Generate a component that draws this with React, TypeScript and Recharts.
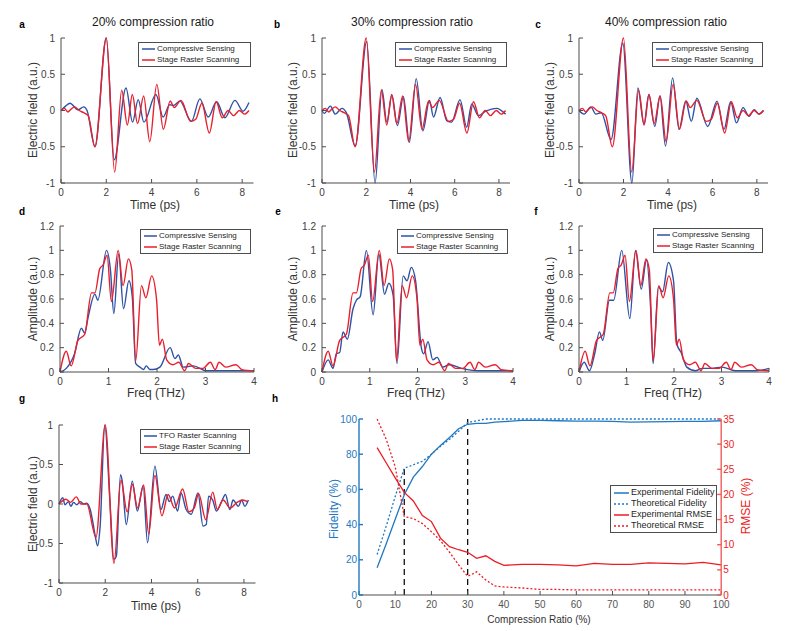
import { LineChart, Line, XAxis, YAxis, Legend, ReferenceLine } from "recharts";

const FONT = '"Liberation Sans", Arial, Helvetica, sans-serif';
const BLUE = "#2e52a6";
const RED = "#ea1f2b";
const AXIS = "#4d4d4d";
const TICK = "#404040";
const H_BLUE = "#1f78c1";
const H_RED = "#ec1c24";
const H_RED_AXIS = "#f25a5a";

// ticks
const timeTicks = [0, 2, 4, 6, 8];
const fieldTicks = [-1, -0.5, 0, 0.5, 1];
const freqTicks = [0, 1, 2, 3, 4];
const ampTicks = [0, 0.2, 0.4, 0.6, 0.8, 1, 1.2];
const crTicks = [0, 10, 20, 30, 40, 50, 60, 70, 80, 90, 100];
const fidTicks = [0, 20, 40, 60, 80, 100];
const rmseTicks = [0, 5, 10, 15, 20, 25, 30, 35];

// stage raster scanning, time domain (reference for a, b, c)
const srTimeT = [0, 0.15, 0.3, 0.45, 0.6, 0.8, 1.0, 1.2, 1.5, 2.0, 2.37, 2.68, 2.93, 3.15, 3.38, 3.65, 3.92, 4.23, 4.52, 4.82, 5.0, 5.3, 5.72, 5.95, 6.22, 6.55, 6.85, 7.12, 7.38, 7.62, 7.88, 8.1, 8.3];
const srTimeV = [0, 0.03, -0.02, 0.02, 0.05, 0.0, -0.03, -0.07, -0.5, 1.0, -0.85, 0.28, -0.2, 0.22, -0.18, 0.2, -0.43, 0.36, -0.26, 0.13, 0.04, 0.14, -0.15, -0.12, 0.1, -0.31, 0.12, -0.1, 0.0, -0.07, 0.0, -0.05, 0.0];

// compressive sensing, 20 / 30 / 40 %
const cs20T = [0, 0.2, 0.4, 0.75, 1.0, 1.15, 1.5, 2.0, 2.35, 2.87, 3.16, 3.41, 3.66, 4.19, 4.51, 4.8, 4.97, 5.25, 5.76, 6.13, 6.5, 6.87, 7.24, 7.68, 8.04, 8.3];
const cs20V = [0, 0.06, 0.1, 0.01, 0.05, 0.0, -0.5, 1.0, -0.68, 0.31, -0.16, 0.15, -0.16, 0.22, -0.09, 0.08, 0.07, 0.13, -0.15, 0.16, -0.09, 0.12, -0.1, 0.14, -0.01, 0.11];
const cs30T = [0, 0.1, 0.38, 0.6, 0.9, 1.1, 1.5, 2.02, 2.4, 2.71, 2.93, 3.16, 3.41, 3.68, 3.95, 4.26, 4.56, 4.86, 5.04, 5.34, 5.64, 5.86, 6.24, 6.54, 6.77, 7.07, 7.4, 7.89, 8.3];
const cs30V = [0, -0.04, 0.06, -0.05, 0.03, -0.03, -0.49, 0.95, -1.0, 0.29, -0.16, 0.21, -0.21, 0.19, -0.44, 0.44, -0.28, 0.14, -0.09, 0.18, -0.14, -0.16, 0.15, -0.23, 0.09, -0.07, -0.01, 0.03, -0.05];
const cs40T = [0, 0.23, 0.53, 0.76, 1.0, 1.44, 1.97, 2.38, 2.65, 2.92, 3.14, 3.41, 3.64, 3.89, 4.21, 4.5, 4.8, 5.05, 5.3, 5.79, 6.21, 6.52, 6.82, 7.08, 7.38, 7.65, 7.88, 8.08, 8.29];
const cs40V = [0, -0.05, 0.05, -0.05, -0.03, -0.4, 0.93, -1.0, 0.31, -0.19, 0.22, -0.22, 0.2, -0.49, 0.45, -0.26, 0.13, -0.15, 0.17, -0.22, 0.13, -0.26, 0.12, -0.17, 0.04, -0.08, 0.01, -0.05, 0.0];

// spectra (THz)
const srFreqF = [0, 0.13, 0.23, 0.37, 0.51, 0.65, 0.72, 0.82, 0.89, 0.97, 1.06, 1.2, 1.3, 1.41, 1.48, 1.56, 1.68, 1.77, 1.89, 1.99, 2.05, 2.11, 2.2, 2.33, 2.45, 2.57, 2.65, 2.8, 2.95, 3.1, 3.2, 3.28, 3.42, 3.63, 3.75, 4.0];
const srFreqA = [0, 0.17, 0.05, 0.26, 0.31, 0.65, 0.65, 0.85, 0.88, 0.96, 0.58, 1.0, 0.71, 0.93, 0.84, 0.09, 0.71, 0.61, 0.79, 0.6, 0.22, 0.27, 0.1, 0.06, 0.08, 0.01, 0.07, 0.03, 0.03, 0.08, 0.02, 0.08, 0.04, 0.06, 0.02, 0.01];
const cs20F = [0, 0.13, 0.3, 0.44, 0.51, 0.58, 0.72, 0.78, 0.96, 1.04, 1.11, 1.21, 1.31, 1.42, 1.49, 1.56, 1.65, 1.72, 1.78, 1.85, 1.92, 2.06, 2.27, 2.37, 2.44, 2.54, 2.75, 3.02, 3.57, 4.0];
const cs20A = [0, 0.03, 0.15, 0.36, 0.32, 0.45, 0.64, 0.59, 1.0, 0.84, 0.48, 0.97, 0.52, 0.75, 0.62, 0.07, 0.04, 0.02, 0.05, 0.02, 0.02, 0.04, 0.2, 0.11, 0.14, 0.04, 0.05, 0.01, 0.01, 0.01];
const cs30F = [0, 0.13, 0.23, 0.3, 0.37, 0.44, 0.53, 0.65, 0.72, 0.8, 0.93, 1.07, 1.19, 1.31, 1.4, 1.49, 1.57, 1.7, 1.78, 1.87, 1.96, 2.08, 2.13, 2.22, 2.32, 2.41, 2.53, 2.67, 2.92, 3.27, 4.0];
const cs30A = [0, 0.1, 0.03, 0.15, 0.16, 0.33, 0.27, 0.52, 0.59, 0.62, 1.0, 0.47, 0.97, 0.64, 0.73, 0.63, 0.07, 0.79, 0.75, 0.86, 0.75, 0.2, 0.15, 0.25, 0.1, 0.12, 0.04, 0.06, 0.03, 0.01, 0.01];
const cs40F = [0, 0.11, 0.22, 0.33, 0.43, 0.5, 0.64, 0.73, 0.9, 1.07, 1.19, 1.31, 1.42, 1.51, 1.56, 1.67, 1.76, 1.88, 1.99, 2.06, 2.15, 2.27, 2.45, 2.59, 2.8, 3.01, 3.29, 3.72, 4.0];
const cs40A = [0, 0.08, 0.01, 0.15, 0.33, 0.26, 0.59, 0.59, 1.0, 0.44, 1.0, 0.68, 0.92, 0.51, 0.07, 0.7, 0.66, 0.9, 0.75, 0.23, 0.16, 0.04, 0.01, 0.03, 0.03, 0.04, 0.01, 0.01, 0.03];

// panel g: TFO raster vs stage raster
const tfoT = [0, 0.16, 0.26, 0.41, 0.51, 0.63, 0.77, 0.92, 1.06, 1.2, 1.35, 1.47, 1.57, 1.67, 1.78, 1.98, 2.2, 2.37, 2.48, 2.66, 2.73, 2.91, 3.17, 3.39, 3.64, 3.83, 4.15, 4.41, 4.63, 4.77, 4.92, 5.13, 5.28, 5.5, 5.72, 6.01, 6.23, 6.37, 6.47, 6.65, 6.81, 7.03, 7.2, 7.39, 7.53, 7.76, 7.9, 8.04, 8.19];
const tfoV = [0, 0.08, -0.01, 0.03, -0.03, 0.02, -0.01, 0.03, 0.0, 0.01, -0.07, -0.24, -0.41, -0.53, -0.28, 1.0, 0.05, -0.7, -0.66, 0.37, 0.3, -0.26, 0.29, -0.09, 0.23, -0.49, 0.48, -0.07, 0.12, 0.03, 0.1, -0.09, 0.14, -0.07, -0.13, 0.14, -0.28, -0.26, 0.1, 0.05, -0.09, 0.03, 0.12, -0.07, 0.05, -0.03, 0.05, -0.03, 0.05];
const srGT = [0, 0.3, 0.5, 0.75, 0.95, 1.2, 1.6, 2.0, 2.38, 2.68, 2.95, 3.17, 3.4, 3.66, 3.88, 4.15, 4.45, 4.72, 5.0, 5.35, 5.62, 5.85, 6.04, 6.35, 6.65, 6.85, 7.1, 7.4, 7.7, 7.95, 8.15];
const srGV = [0, 0.06, 0.02, 0.09, 0.0, 0.0, -0.42, 1.0, -0.75, 0.3, -0.1, 0.25, -0.05, 0.24, -0.38, 0.36, -0.15, 0.12, -0.05, 0.19, -0.1, -0.05, 0.13, -0.2, 0.15, -0.07, 0.05, -0.05, 0.02, 0.05, 0.03];

// panel h
const compRatio = [5, 7.5, 10, 12.5, 15, 17.5, 20, 22.5, 25, 27.5, 30, 32.5, 35, 37.5, 40, 45, 50, 55, 60, 65, 70, 75, 80, 85, 90, 95, 100];
const expFidelity = [15.5, 29, 43, 57, 67, 73, 80, 85, 89.5, 94.5, 97, 97.5, 97.5, 98.2, 98.5, 99.2, 99.2, 99, 98.8, 98.8, 98.6, 98.2, 98.4, 98.5, 98.6, 98.7, 99];
const theoFidelity = [23, 39, 56, 72, 74, 76, 80, 84.5, 88.5, 93, 98, 99, 100, 100, 100, 100, 100, 100, 100, 100, 100, 100, 100, 100, 100, 100, 100];
const expRmse = [29.3, 26.3, 23.3, 20.4, 18.7, 15.8, 14.6, 11.3, 9.6, 9.0, 8.5, 7.3, 7.8, 6.7, 5.9, 6.1, 6.1, 6.0, 5.8, 6.3, 6.1, 6.1, 6.4, 6.3, 6.2, 6.5, 6.0];
const theoRmse = [35, 31, 25.5, 15.6, 15.2, 14.2, 12.6, 10.8, 8.5, 6, 3.7, 4.6, 3.0, 1.8, 1.6, 1.4, 1.1, 1.1, 1.0, 1.0, 1.0, 1.0, 1.0, 1.0, 1.0, 1.0, 1.0];
const markerLow = [{ x: 12.5, y: 0 }, { x: 12.5, y: 72 }];
const markerHigh = 30;

type Pt = { x: number; y: number };
type Item = { name: string; color: string; dash?: string };
const pts = (xs: number[], ys: number[]): Pt[] => xs.map((x, i) => ({ x, y: ys[i] }));

function LegendBox({ items, fontSize = 8, rowH = 10.7, sample = 13 }: { items: Item[]; fontSize?: number; rowH?: number; sample?: number }) {
  return (
    <div style={{ boxSizing: "border-box", border: `1px solid ${AXIS}`, background: "#fff", padding: "1px 3px", fontFamily: FONT, fontSize, color: "#262626", lineHeight: `${rowH}px` }}>
      {items.map((it) => (
        <div key={it.name} style={{ display: "flex", alignItems: "center", whiteSpace: "nowrap" }}>
          <svg width={sample} height={4} style={{ marginRight: 2, flex: "none" }}>
            <line x1={0} y1={2} x2={sample} y2={2} stroke={it.color} strokeWidth={1.5} strokeDasharray={it.dash} />
          </svg>
          <span>{it.name}</span>
        </div>
      ))}
    </div>
  );
}

function Txt({ x, y, size = 12, rot, color = "#333", bold, children }: { x: number; y: number; size?: number; rot?: number; color?: string; bold?: boolean; children: string }) {
  return (
    <div style={{ position: "absolute", left: x, top: y, transform: `translate(-50%, -50%)${rot ? ` rotate(${rot}deg)` : ""}`, fontSize: size, fontWeight: bold ? 700 : 400, color, whiteSpace: "nowrap", lineHeight: 1 }}>
      {children}
    </div>
  );
}

const YW = 40, MT = 8, MR = 10, XH = 24;

function Panel({ box, xMax, xTicks, yDomain, yTicks, series, leg }: {
  box: number[]; xMax: number; xTicks: number[]; yDomain: number[]; yTicks: number[];
  series: { name: string; color: string; data: Pt[] }[]; leg: number[];
}) {
  const [l, t, r, b] = box;
  const cl = l - YW, ct = t - MT;
  const tickStyle = { fill: TICK, fontSize: 10, fontFamily: FONT };
  return (
    <div style={{ position: "absolute", left: cl, top: ct }}>
      <LineChart width={r - l + YW + MR} height={b - t + MT + XH} margin={{ top: MT, right: MR, bottom: 0, left: 0 }}>
        <XAxis type="number" dataKey="x" domain={[0, xMax]} ticks={xTicks} interval={0} height={XH} stroke={AXIS} tickSize={-4} tickMargin={10} tick={tickStyle} />
        <XAxis xAxisId="top" orientation="top" type="number" dataKey="x" domain={[0, xMax]} ticks={xTicks} interval={0} height={0} stroke={AXIS} tickSize={-4} tick={false} />
        <YAxis type="number" domain={yDomain} ticks={yTicks} interval={0} width={YW} stroke={AXIS} tickSize={-4} tickMargin={10} tick={tickStyle} />
        <YAxis yAxisId="right" orientation="right" type="number" domain={yDomain} ticks={yTicks} interval={0} width={0} stroke={AXIS} tickSize={-4} tick={false} />
        {series.map((s) => (
          <Line key={s.name} data={s.data} dataKey="y" name={s.name} type="monotone" stroke={s.color} strokeWidth={1.4} dot={false} isAnimationActive={false} />
        ))}
        <Legend layout="vertical" align="center" verticalAlign="middle" width={leg[2]}
          wrapperStyle={{ left: leg[0] - cl, top: leg[1] - ct, width: leg[2] }}
          content={() => <LegendBox items={series.map((s) => ({ name: s.name, color: s.color }))} />} />
      </LineChart>
    </div>
  );
}

const csItems = (cs: Pt[], sr: Pt[]) => [
  { name: "Compressive Sensing", color: BLUE, data: cs },
  { name: "Stage Raster Scanning", color: RED, data: sr },
];

function FidelityPanel() {
  const [l, t, r, b] = [359.3, 419, 721.5, 595];
  const LW = 34, RW = 30, top = 8;
  const cl = l - LW, ct = t - top;
  const data = compRatio.map((x, i) => ({ x, ef: expFidelity[i], tf: theoFidelity[i], er: expRmse[i], tr: theoRmse[i] }));
  const tickStyle = { fontSize: 10, fontFamily: FONT };
  const items: Item[] = [
    { name: "Experimental Fidelity", color: H_BLUE },
    { name: "Theoretical Fidelity", color: H_BLUE, dash: "2 2" },
    { name: "Experimental RMSE", color: H_RED },
    { name: "Theoretical RMSE", color: H_RED, dash: "2 2" },
  ];
  return (
    <div style={{ position: "absolute", left: cl, top: ct }}>
      <LineChart data={data} width={r - l + LW + RW} height={b - t + top + 26} margin={{ top, right: 0, bottom: 0, left: 0 }}>
        <XAxis type="number" dataKey="x" domain={[0, 100]} ticks={crTicks} interval={0} height={26} stroke={AXIS} tickSize={-4} tickMargin={10} tick={{ ...tickStyle, fill: "#555" }} />
        <XAxis xAxisId="top" orientation="top" type="number" dataKey="x" domain={[0, 100]} ticks={crTicks} interval={0} height={0} stroke={AXIS} tickSize={-4} tick={false} />
        <YAxis yAxisId="fid" type="number" domain={[0, 100]} ticks={fidTicks} interval={0} width={LW} stroke={H_BLUE} strokeWidth={1.4} tickSize={-4} tickMargin={6} tick={{ ...tickStyle, fill: H_BLUE }} />
        <YAxis yAxisId="rmse" orientation="right" type="number" domain={[0, 35]} ticks={rmseTicks} interval={0} width={RW} stroke={H_RED_AXIS} strokeWidth={1.4} tickSize={-4} tickMargin={6} tick={{ ...tickStyle, fill: H_RED }} />
        <ReferenceLine yAxisId="fid" x={markerHigh} stroke="#111" strokeWidth={1.3} strokeDasharray="6 4" />
        <ReferenceLine yAxisId="fid" segment={markerLow} stroke="#111" strokeWidth={1.3} strokeDasharray="6 4" />
        <Line yAxisId="fid" dataKey="ef" name={items[0].name} type="linear" stroke={H_BLUE} strokeWidth={1.3} dot={false} isAnimationActive={false} />
        <Line yAxisId="fid" dataKey="tf" name={items[1].name} type="linear" stroke={H_BLUE} strokeWidth={1.3} strokeDasharray="2 2" dot={false} isAnimationActive={false} />
        <Line yAxisId="rmse" dataKey="er" name={items[2].name} type="linear" stroke={H_RED} strokeWidth={1.3} dot={false} isAnimationActive={false} />
        <Line yAxisId="rmse" dataKey="tr" name={items[3].name} type="linear" stroke={H_RED} strokeWidth={1.3} strokeDasharray="2 2" dot={false} isAnimationActive={false} />
        <Legend layout="vertical" align="center" verticalAlign="middle" width={107}
          wrapperStyle={{ left: 610 - cl, top: 485 - ct, width: 107 }}
          content={() => <LegendBox items={items} fontSize={9} rowH={11} sample={15} />} />
      </LineChart>
    </div>
  );
}

export default function App() {
  const rowA = [38, 183], rowD = [226, 372], rowG = [425, 583];
  return (
    <div style={{ position: "absolute", left: 0, top: 0, width: 789, height: 631, background: "#fff", fontFamily: FONT, overflow: "hidden" }}>
      <Panel box={[60.5, rowA[0], 253, rowA[1]]} xMax={8.5} xTicks={timeTicks} yDomain={[-1, 1]} yTicks={fieldTicks}
        series={csItems(pts(cs20T, cs20V), pts(srTimeT, srTimeV))} leg={[138, 42, 113]} />
      <Panel box={[322, rowA[0], 510, rowA[1]]} xMax={8.5} xTicks={timeTicks} yDomain={[-1, 1]} yTicks={fieldTicks}
        series={csItems(pts(cs30T, cs30V), pts(srTimeT, srTimeV))} leg={[395, 42, 112]} />
      <Panel box={[579, rowA[0], 768, rowA[1]]} xMax={8.5} xTicks={timeTicks} yDomain={[-1, 1]} yTicks={fieldTicks}
        series={csItems(pts(cs40T, cs40V), pts(srTimeT, srTimeV))} leg={[652, 42, 111]} />

      <Panel box={[60, rowD[0], 254, rowD[1]]} xMax={4} xTicks={freqTicks} yDomain={[0, 1.2]} yTicks={ampTicks}
        series={csItems(pts(cs20F, cs20A), pts(srFreqF, srFreqA))} leg={[140, 229, 111]} />
      <Panel box={[322, rowD[0], 513, rowD[1]]} xMax={4} xTicks={freqTicks} yDomain={[0, 1.2]} yTicks={ampTicks}
        series={csItems(pts(cs30F, cs30A), pts(srFreqF, srFreqA))} leg={[397, 229, 111]} />
      <Panel box={[579, rowD[0], 769, rowD[1]]} xMax={4} xTicks={freqTicks} yDomain={[0, 1.2]} yTicks={ampTicks}
        series={csItems(pts(cs40F, cs40A), pts(srFreqF, srFreqA))} leg={[653, 228, 110]} />

      <Panel box={[58.5, rowG[0], 255, rowG[1]]} xMax={8.5} xTicks={timeTicks} yDomain={[-1, 1]} yTicks={fieldTicks}
        series={[{ name: "TFO Raster Scanning", color: BLUE, data: pts(tfoT, tfoV) }, { name: "Stage Raster Scanning", color: RED, data: pts(srGT, srGV) }]}
        leg={[140, 429, 110]} />

      <FidelityPanel />

      <Txt x={153} y={22} color="#1a1a1a">20% compression ratio</Txt>
      <Txt x={412} y={22} color="#1a1a1a">30% compression ratio</Txt>
      <Txt x={666} y={22} color="#1a1a1a">40% compression ratio</Txt>

      <Txt x={22} y={25} size={10} bold color="#000">a</Txt>
      <Txt x={277} y={25} size={10} bold color="#000">b</Txt>
      <Txt x={538} y={25} size={10} bold color="#000">c</Txt>
      <Txt x={22} y={212} size={10} bold color="#000">d</Txt>
      <Txt x={278} y={212} size={10} bold color="#000">e</Txt>
      <Txt x={536} y={212} size={10} bold color="#000">f</Txt>
      <Txt x={22} y={399} size={10} bold color="#000">g</Txt>
      <Txt x={275} y={399} size={10} bold color="#000">h</Txt>

      <Txt x={33} y={110} rot={-90}>Electric field (a.u.)</Txt>
      <Txt x={293} y={110} rot={-90}>Electric field (a.u.)</Txt>
      <Txt x={550} y={110} rot={-90}>Electric field (a.u.)</Txt>
      <Txt x={33} y={299} rot={-90}>Amplitude (a.u.)</Txt>
      <Txt x={293} y={299} rot={-90}>Amplitude (a.u.)</Txt>
      <Txt x={550} y={299} rot={-90}>Amplitude (a.u.)</Txt>
      <Txt x={33} y={504} rot={-90}>Electric field (a.u.)</Txt>

      <Txt x={155} y={205}>Time (ps)</Txt>
      <Txt x={414} y={205}>Time (ps)</Txt>
      <Txt x={672} y={205}>Time (ps)</Txt>
      <Txt x={156} y={393}>Freq (THz)</Txt>
      <Txt x={416} y={393}>Freq (THz)</Txt>
      <Txt x={673} y={393}>Freq (THz)</Txt>
      <Txt x={156} y={606}>Time (ps)</Txt>

      <Txt x={334} y={509} rot={-90} size={12} color={H_BLUE}>Fidelity (%)</Txt>
      <Txt x={746} y={506} rot={-90} size={12} color={H_RED}>RMSE (%)</Txt>
      <Txt x={539} y={620} size={10}>Compression Ratio (%)</Txt>
    </div>
  );
}
